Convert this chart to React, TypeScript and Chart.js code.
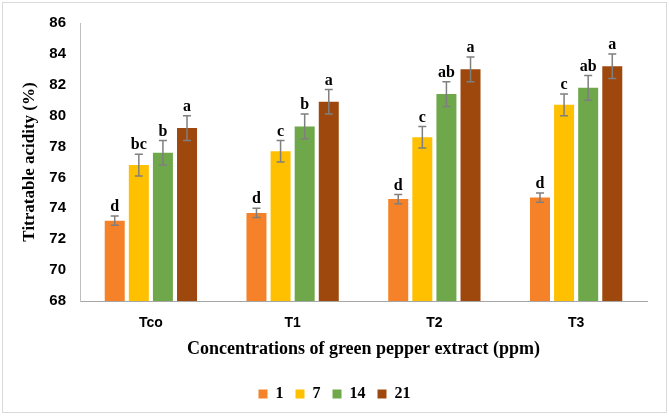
import React, { useEffect, useRef } from "react";
import { Chart, registerables } from "chart.js";

Chart.register(...registerables);

const categories = ["Tco", "T1", "T2", "T3"];
const seriesNames = ["1", "7", "14", "21"];
const seriesColors = ["#F58228", "#FFC000", "#6FA84A", "#9E480E"];
const day1 = [73.2, 73.7, 74.6, 74.7];
const day7 = [76.8, 77.7, 78.6, 80.7];
const day14 = [77.6, 79.3, 81.4, 81.8];
const day21 = [79.2, 80.9, 83.0, 83.2];
const err1 = [0.3, 0.3, 0.3, 0.3];
const err7 = [0.7, 0.7, 0.7, 0.7];
const err14 = [0.8, 0.8, 0.8, 0.8];
const err21 = [0.8, 0.8, 0.8, 0.8];
const letters1 = ["d", "d", "d", "d"];
const letters7 = ["bc", "c", "c", "c"];
const letters14 = ["b", "b", "ab", "ab"];
const letters21 = ["a", "a", "a", "a"];
const yTicks = [68, 70, 72, 74, 76, 78, 80, 82, 84, 86];

const values = [day1, day7, day14, day21];
const errors = [err1, err7, err14, err21];
const letters = [letters1, letters7, letters14, letters21];

const errorBarPlugin = {
  id: "errorBars",
  afterDatasetsDraw(chart: any) {
    const ctx = chart.ctx;
    const yScale = chart.scales.y;
    chart.data.datasets.forEach((ds: any, di: number) => {
      const meta = chart.getDatasetMeta(di);
      meta.data.forEach((bar: any, i: number) => {
        const v = ds.data[i];
        const e = errors[di][i];
        const x = bar.x;
        const yTop = yScale.getPixelForValue(v + e);
        const yBot = yScale.getPixelForValue(v - e);
        ctx.save();
        ctx.strokeStyle = "#7F7F7F";
        ctx.lineWidth = 1.5;
        ctx.beginPath();
        ctx.moveTo(x, yTop);
        ctx.lineTo(x, yBot);
        ctx.moveTo(x - 4, yTop);
        ctx.lineTo(x + 4, yTop);
        ctx.moveTo(x - 4, yBot);
        ctx.lineTo(x + 4, yBot);
        ctx.stroke();
        ctx.fillStyle = "#000";
        ctx.font = "bold 16px 'Liberation Serif', 'Times New Roman', serif";
        ctx.textAlign = "center";
        ctx.textBaseline = "bottom";
        ctx.fillText(letters[di][i], x, yTop - 1);
        ctx.restore();
      });
    });
  },
};

export default function App() {
  const ref = useRef<HTMLCanvasElement>(null);
  useEffect(() => {
    if (!ref.current) return;
    const chart = new Chart(ref.current, {
      type: "bar",
      data: {
        labels: categories,
        datasets: seriesNames.map((n, i) => ({
          label: n,
          data: values[i],
          backgroundColor: seriesColors[i],
          borderWidth: 0,
          barPercentage: 0.83,
          categoryPercentage: 0.68,
        })),
      },
      options: {
        animation: false,
        responsive: false,
        maintainAspectRatio: false,
        layout: { padding: { left: 0, right: 0, top: 22, bottom: 4 } },
        plugins: {
          tooltip: { enabled: false },
          legend: {
            position: "bottom",
            labels: {
              boxWidth: 9,
              boxHeight: 9,
              padding: 12,
              color: "#000",
              font: { family: "'Liberation Serif', 'Times New Roman', serif", size: 16, weight: "bold" },
            },
          },
        },
        scales: {
          x: {
            grid: { display: false, drawTicks: false },
            border: { display: true, color: "#A6A6A6" },
            ticks: {
              color: "#000",
              padding: 14,
              font: { family: "'Liberation Sans', Arial, sans-serif", size: 14, weight: "bold" },
            },
            title: {
              display: true,
              text: "Concentrations of green pepper extract (ppm)",
              color: "#000",
              padding: { top: 0, bottom: 14 },
              font: { family: "'Liberation Serif', 'Times New Roman', serif", size: 18, weight: "bold" },
            },
            afterFit(scale: any) {
              scale.height = 73;
            },
          },
          y: {
            min: 68,
            max: 86,
            afterBuildTicks(scale: any) {
              scale.ticks = yTicks.map((v) => ({ value: v }));
            },
            grid: { display: false, drawTicks: false },
            border: { display: true, color: "#BFBFBF" },
            ticks: {
              color: "#000",
              padding: 14,
              font: { family: "'Liberation Sans', Arial, sans-serif", size: 15, weight: "bold" },
            },
            title: {
              display: true,
              text: "Titratable acidity (%)",
              color: "#000",
              padding: { top: 19, bottom: 0 },
              font: { family: "'Liberation Serif', 'Times New Roman', serif", size: 17, weight: "bold" },
            },
            afterFit(scale: any) {
              scale.width = 80;
            },
          },
          spacer: {
            type: "linear",
            position: "right",
            display: true,
            grid: { display: false, drawTicks: false },
            border: { display: false },
            ticks: { display: false },
            afterFit(scale: any) {
              scale.width = 22;
            },
          },
        },
      },
      plugins: [errorBarPlugin],
    } as any);
    return () => chart.destroy();
  }, []);
  return (
    <div style={{ position: "fixed", left: 0, top: 0, width: 669, height: 416, background: "#fff" }}>
      <div
        style={{
          position: "absolute",
          left: 2,
          top: 2,
          width: 665,
          height: 411,
          border: "1px solid #D9D9D9",
          boxSizing: "border-box",
          pointerEvents: "none",
        }}
      />
      <canvas ref={ref} width={669} height={416} style={{ position: "absolute", left: 0, top: 0 }} />
    </div>
  );
}
